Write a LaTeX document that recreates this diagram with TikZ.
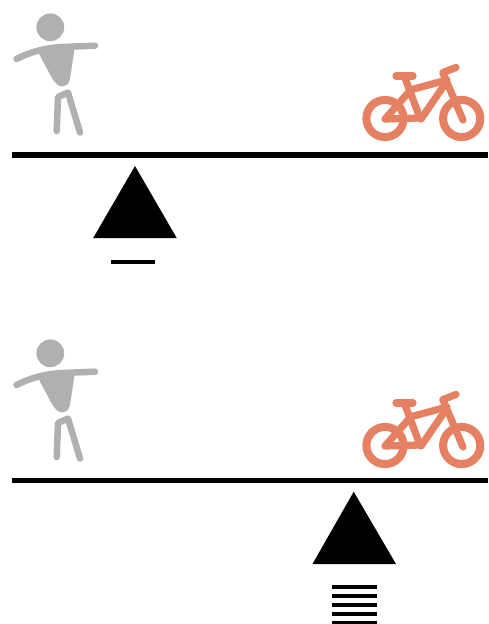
\documentclass[tikz,border=0pt]{standalone}
\definecolor{persongray}{HTML}{B0B0B0}
\definecolor{bikeorange}{HTML}{E58062}
\tikzset{
  every picture/.style={x=1pt,y=-1pt},
  beam/.style={line width=5.4pt,black},
  bar/.style={line width=4.8pt,black},
  person/.pic={
    \fill[persongray] (50.3,27.3) circle (13.9);
    \draw[persongray,line width=6.5pt,line cap=round,line join=round] (16.5,59) .. controls (30,52) and (45,48) .. (62,47) -- (95,45.7);
    \fill[persongray,rounded corners=3pt] (37,50) -- (75,46) -- (69.5,82) -- (66,86) -- (59,86.5) -- (53,80) -- cycle;
    \draw[persongray,line width=6.5pt,line cap=round,line join=round] (56.7,131) -- (58,97) -- (68,92.5) -- (80,132.5);
  },
  bike/.pic={
    \begin{scope}[bikeorange,line cap=round,line join=round]
      \draw[line width=8pt] (385,118.5) circle (18.6);
      \draw[line width=8pt] (461.7,118.5) circle (18.6);
      \draw[line width=7.2pt] (396,76) -- (413,76);
      \draw[line width=7.2pt] (405,78) -- (420,118) -- (385,119) -- (408,93);
      \draw[line width=7.2pt] (410,90) -- (447,80);
      \draw[line width=7.2pt] (445,84) -- (421,119);
      \draw[line width=7.2pt] (443,73) -- (463,120);
      \draw[line width=7.2pt] (443,72.5) -- (456,67.5);
    \end{scope}
  }
}
\begin{document}
\begin{tikzpicture}
\useasboundingbox (0,0) rectangle (489,624);
\fill[white] (0,0) rectangle (489,624);
% top
\pic at (0,0) {person};
\pic at (0,0) {bike};
\draw[beam] (12,155) -- (488,155);
\fill (135,166) -- (176.7,238) -- (93.2,238) -- cycle;
\draw[bar] (110.5,262) -- (155,262);
% bottom
\pic at (0,326) {person};
\pic at (0,327) {bike};
\draw[beam] (12,480.5) -- (488,480.5);
\fill (353.7,491.7) -- (396,564) -- (312.5,564) -- cycle;
\foreach \yy in {587,596,605,614,623}
  \draw[bar] (332,\yy) -- (376.5,\yy);
\end{tikzpicture}
\end{document}
